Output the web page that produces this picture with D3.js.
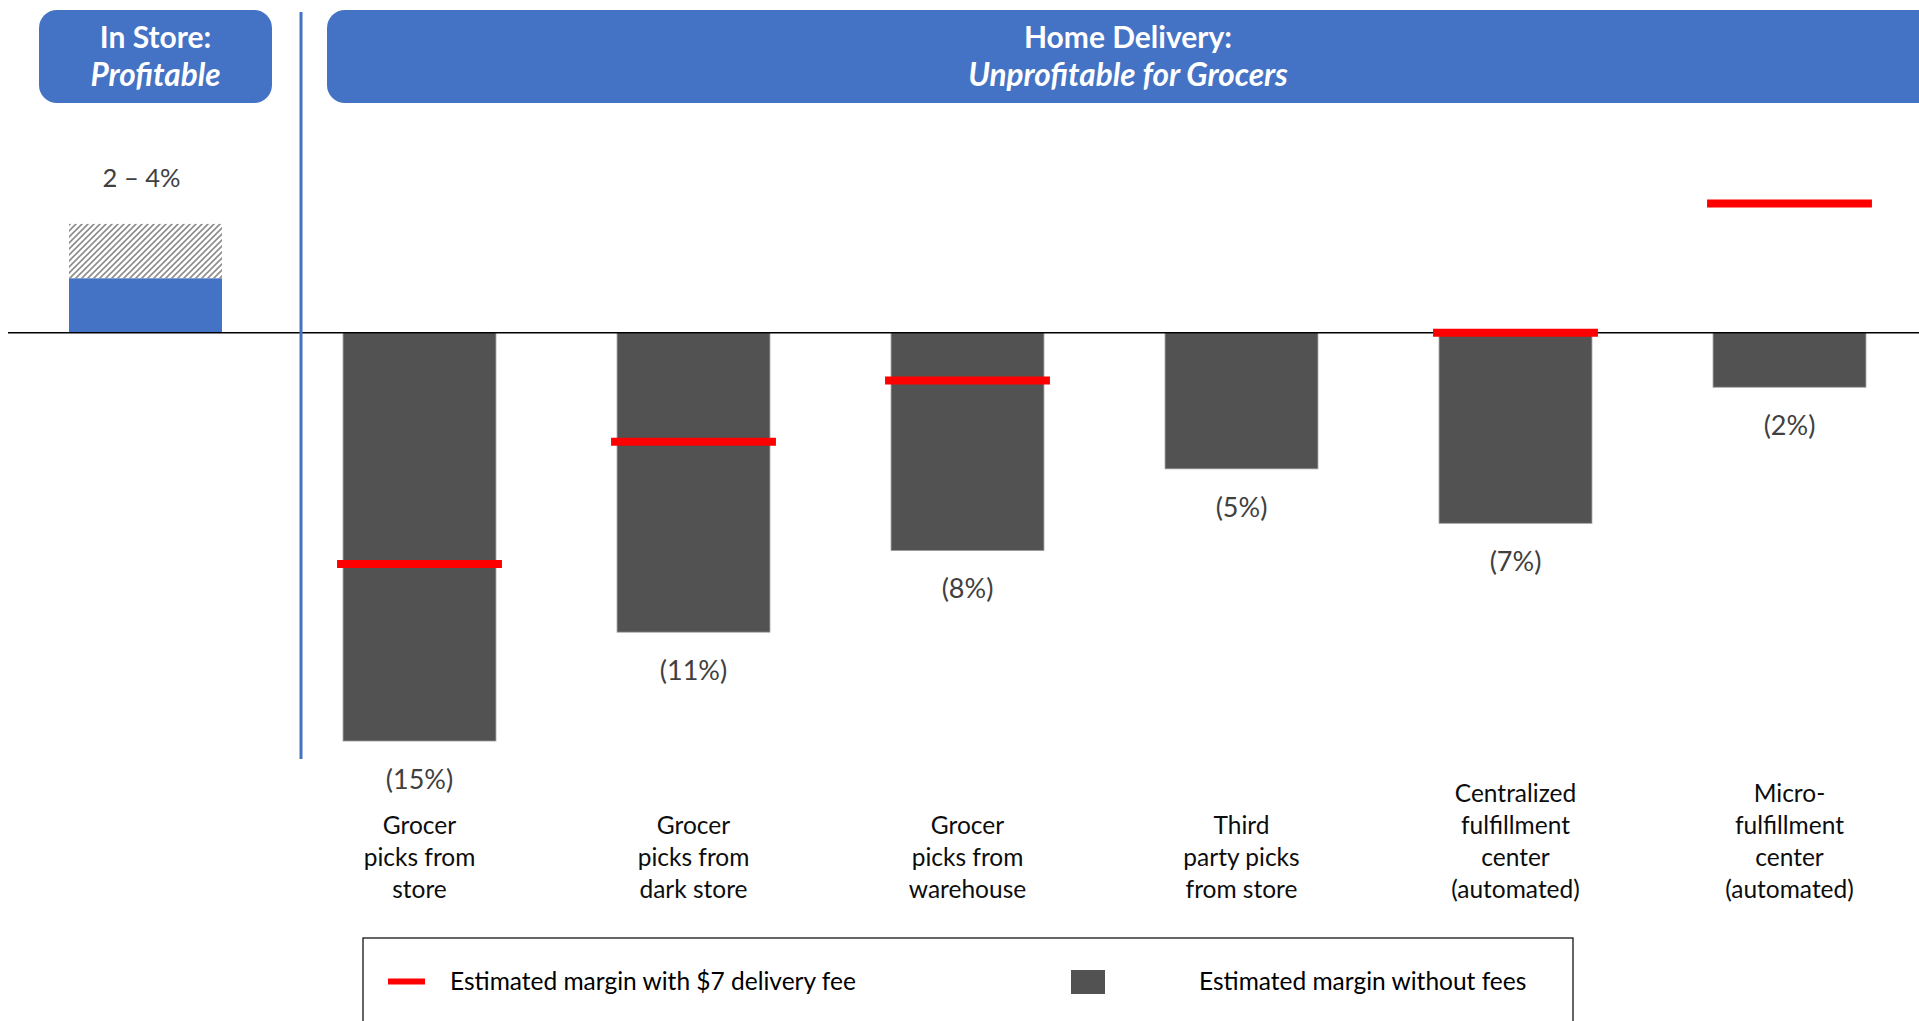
<!DOCTYPE html>
<html>
<head>
<meta charset="utf-8">
<script src="https://cdn.jsdelivr.net/npm/d3@7"></script>
<style>
  body { margin: 0; background: #fff; }
  svg { display: block; font-family: Lato, "Open Sans", sans-serif; }
</style>
</head>
<body>
<div id="chart"></div>
<script>
// home delivery models
var categories = [
    ['Grocer', 'picks from', 'store'],
    ['Grocer', 'picks from', 'dark store'],
    ['Grocer', 'picks from', 'warehouse'],
    ['Third', 'party picks', 'from store'],
    ['Centralized', 'fulfillment', 'center', '(automated)'],
    ['Micro-', 'fulfillment', 'center', '(automated)']
];
var keys = categories.map(c => c.join(' '));
var marginNoFees = [-15, -11, -8, -5, -7, -2];
var marginWithFee = [-8.5, -4, -1.75, null, 0, 4.75];
var valueLabels = ['(15%)', '(11%)', '(8%)', '(5%)', '(7%)', '(2%)'];

// in store range
var inStoreLow = 2;
var inStoreHigh = 4;
var inStoreLabel = '2 \u2013 4%';

var blue = '#4472C4';
var grey = '#525252';
var red = '#FF0000';

var width = 1919;
var height = 1021;

var svg = d3
    .select('#chart')
    .append('svg')
    .attr('width', width)
    .attr('height', height);

var defs = svg.append('defs');
var hatch = defs
    .append('pattern')
    .attr('id', 'hatch')
    .attr('patternUnits', 'userSpaceOnUse')
    .attr('width', 6)
    .attr('height', 6);
hatch
    .append('path')
    .attr('d', 'M-1,1 l2,-2 M0,6 l6,-6 M5,7 l2,-2')
    .attr('stroke', '#8c8c8c')
    .attr('stroke-width', 1.6);

var y = d3.scaleLinear().domain([-15, 5]).range([741, 196.7]);

var x = d3
    .scaleBand()
    .domain(keys)
    .range([282.5, 1926.5])
    .paddingInner(0.442)
    .paddingOuter(0.221);

var xStore = d3.scaleBand().domain(['In Store']).range([69, 222]);

// header boxes
svg.append('rect')
    .attr('x', 39).attr('y', 10)
    .attr('width', 233).attr('height', 93)
    .attr('rx', 18)
    .attr('fill', blue);

svg.append('rect')
    .attr('x', 327).attr('y', 10)
    .attr('width', 1640).attr('height', 93)
    .attr('rx', 18)
    .attr('fill', blue);

var headers = [
    { x: 155.5, lines: ['In Store:', 'Profitable'] },
    { x: 1128, lines: ['Home Delivery:', 'Unprofitable for Grocers'] }
];
headers.forEach(h => {
    svg.append('text')
        .attr('x', h.x).attr('y', 48)
        .attr('text-anchor', 'middle')
        .attr('fill', '#fff')
        .attr('font-size', 30)
        .attr('font-weight', 'bold')
        .text(h.lines[0]);
    svg.append('text')
        .attr('x', h.x).attr('y', 86)
        .attr('text-anchor', 'middle')
        .attr('fill', '#fff')
        .attr('font-size', 31.5)
        .attr('font-weight', 'bold')
        .attr('font-style', 'italic')
        .text(h.lines[1]);
});

// in store bar
svg.append('rect')
    .attr('x', xStore('In Store'))
    .attr('width', xStore.bandwidth())
    .attr('y', y(inStoreHigh))
    .attr('height', y(inStoreLow) - y(inStoreHigh))
    .attr('fill', 'url(#hatch)');

svg.append('rect')
    .attr('x', xStore('In Store'))
    .attr('width', xStore.bandwidth())
    .attr('y', y(inStoreLow))
    .attr('height', y(0) - y(inStoreLow))
    .attr('fill', blue);

svg.append('text')
    .attr('x', xStore('In Store') + xStore.bandwidth() / 2 - 4)
    .attr('y', y(inStoreHigh) - 37)
    .attr('text-anchor', 'middle')
    .attr('fill', '#404040')
    .attr('font-size', 25.5)
    .text(inStoreLabel);

// bars without fees
svg.selectAll('.bar')
    .data(marginNoFees)
    .enter()
    .append('rect')
    .attr('class', 'bar')
    .attr('x', (d, i) => x(keys[i]))
    .attr('width', x.bandwidth())
    .attr('y', y(0))
    .attr('height', d => y(d) - y(0))
    .attr('fill', grey)
    .attr('stroke', '#9a9a9a')
    .attr('stroke-width', 0.8);

svg.selectAll('.val')
    .data(marginNoFees)
    .enter()
    .append('text')
    .attr('class', 'val')
    .attr('x', (d, i) => x(keys[i]) + x.bandwidth() / 2)
    .attr('y', d => y(d) + 48)
    .attr('text-anchor', 'middle')
    .attr('fill', '#404040')
    .attr('font-size', 27)
    .text((d, i) => valueLabels[i]);

// zero line
svg.append('line')
    .attr('x1', 8).attr('x2', width)
    .attr('y1', y(0)).attr('y2', y(0))
    .attr('stroke', '#000')
    .attr('stroke-width', 1.5);

// red markers with delivery fee
svg.selectAll('.fee')
    .data(marginWithFee.map((d, i) => ({ v: d, k: keys[i] })).filter(d => d.v !== null))
    .enter()
    .append('line')
    .attr('class', 'fee')
    .attr('x1', d => x(d.k) - 6)
    .attr('x2', d => x(d.k) + x.bandwidth() + 6)
    .attr('y1', d => y(d.v))
    .attr('y2', d => y(d.v))
    .attr('stroke', red)
    .attr('stroke-width', 8);

// divider
svg.append('line')
    .attr('x1', 301).attr('x2', 301)
    .attr('y1', 12).attr('y2', 759)
    .attr('stroke', blue)
    .attr('stroke-width', 3);

// category labels
categories.forEach((lines, i) => {
    var t = svg.append('text')
        .attr('text-anchor', 'middle')
        .attr('fill', '#0d0d0d')
        .attr('font-size', 24.5);
    lines.forEach((line, j) => {
        t.append('tspan')
            .attr('x', x(keys[i]) + x.bandwidth() / 2)
            .attr('y', 898 - (lines.length - 1 - j) * 32)
            .text(line);
    });
});

// legend
svg.append('rect')
    .attr('x', 363).attr('y', 938)
    .attr('width', 1210).attr('height', 120)
    .attr('fill', 'none')
    .attr('stroke', '#000')
    .attr('stroke-width', 1.2);

svg.append('line')
    .attr('x1', 388).attr('x2', 425)
    .attr('y1', 981.5).attr('y2', 981.5)
    .attr('stroke', red)
    .attr('stroke-width', 6);

svg.append('text')
    .attr('x', 450).attr('y', 990)
    .attr('fill', '#000')
    .attr('font-size', 24.5)
    .text('Estimated margin with $7 delivery fee');

svg.append('rect')
    .attr('x', 1071).attr('y', 970)
    .attr('width', 34).attr('height', 24)
    .attr('fill', grey);

svg.append('text')
    .attr('x', 1199).attr('y', 990)
    .attr('fill', '#000')
    .attr('font-size', 24.5)
    .text('Estimated margin without fees');
</script>
</body>
</html>
